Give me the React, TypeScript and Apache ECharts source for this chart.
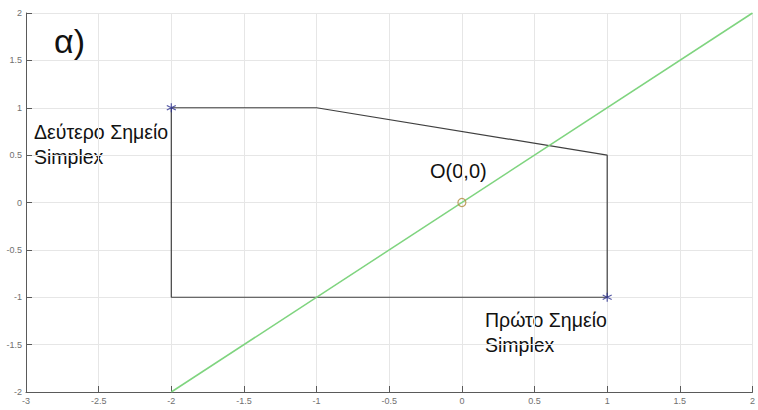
import React, { useEffect, useRef } from "react";
import * as echarts from "echarts";

// Feasible region boundary (closed polygon)
const regionX = [-2, -1, 1, 1, -2, -2];
const regionY = [1, 1, 0.5, -1, -1, 1];

// Line y = x
const lineX = [-2, 2];
const lineY = [-2, 2];

// Simplex points (asterisks) and origin (circle)
const simplexPoints: [number, number][] = [
  [-2, 1],
  [1, -1],
];
const originPoint: [number, number] = [0, 0];

const xRange = [-3, 2];
const yRange = [-2, 2];
const tickStep = 0.5;

const asteriskPath =
  "path://M0,-5L0,5M-4.33,-2.5L4.33,2.5M-4.33,2.5L4.33,-2.5";

const fmt = (v: number) => String(v);

const FONT = "Liberation Sans";

export default function App() {
  const ref = useRef<HTMLDivElement>(null);

  useEffect(() => {
    if (!ref.current) return;
    const chart = echarts.init(ref.current, undefined, {
      renderer: "svg",
      width: 758,
      height: 410,
    });
    const axisCommon = {
      type: "value" as const,
      interval: tickStep,
      axisLine: { show: true, onZero: false, lineStyle: { color: "#5a5a5a", width: 1 } },
      axisTick: { show: true, inside: true, length: 6, lineStyle: { color: "#5a5a5a" } },
      splitLine: { show: true, lineStyle: { color: "#e6e6e6", width: 1 } },
      axisLabel: {
        color: "#707070",
        fontSize: 9,
        fontFamily: FONT,
        formatter: fmt,
        margin: 4,
      },
    };
    chart.setOption({
      animation: false,
      backgroundColor: "#ffffff",
      grid: { left: 26, width: 733, top: 13, height: 379, containLabel: false },
      xAxis: { ...axisCommon, min: xRange[0], max: xRange[1] },
      yAxis: { ...axisCommon, min: yRange[0], max: yRange[1] },
      series: [
        {
          type: "line",
          data: regionX.map((x, i) => [x, regionY[i]]),
          showSymbol: false,
          lineStyle: { color: "#404040", width: 1.2 },
          z: 3,
        },
        {
          type: "line",
          data: lineX.map((x, i) => [x, lineY[i]]),
          showSymbol: false,
          lineStyle: { color: "#7fd47f", width: 1.5 },
          z: 4,
        },
        {
          type: "scatter",
          data: simplexPoints,
          symbol: asteriskPath,
          symbolSize: 9,
          itemStyle: { color: "none", borderColor: "#2a2f8f", borderWidth: 1.2 },
          z: 6,
        },
        {
          type: "scatter",
          data: [originPoint],
          symbol: "circle",
          symbolSize: 8,
          itemStyle: { color: "none", borderColor: "#b08a3c", borderWidth: 1.2 },
          z: 6,
        },
      ],
      graphic: [
        {
          type: "text",
          left: 54,
          top: 24,
          style: { text: "α)", fontSize: 34, fontFamily: FONT, fill: "#111" },
        },
        {
          type: "text",
          left: 34,
          top: 119,
          style: {
            text: "Δεύτερο Σημείο\nSimplex",
            fontSize: 19.5,
            lineHeight: 25,
            fontFamily: FONT,
            fill: "#111",
          },
        },
        {
          type: "text",
          left: 430,
          top: 161,
          style: { text: "O(0,0)", fontSize: 20, fontFamily: FONT, fill: "#111" },
        },
        {
          type: "text",
          left: 485,
          top: 307,
          style: {
            text: "Πρώτο Σημείο\nSimplex",
            fontSize: 19.5,
            lineHeight: 25,
            fontFamily: FONT,
            fill: "#111",
          },
        },
      ],
    });
    return () => chart.dispose();
  }, []);

  return (
    <div
      ref={ref}
      style={{ position: "absolute", left: 0, top: 0, width: 758, height: 410 }}
    />
  );
}
